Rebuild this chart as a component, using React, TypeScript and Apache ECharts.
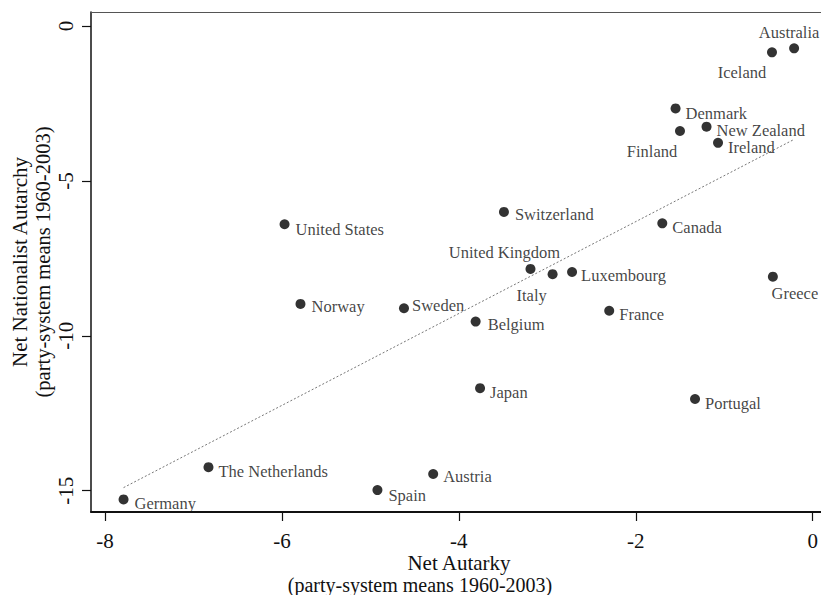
import React, { useEffect, useRef } from "react";
import * as echarts from "echarts";

const countries = [
  "Australia", "Iceland", "Denmark", "Finland", "New Zealand", "Ireland",
  "Switzerland", "Canada", "United States", "United Kingdom", "Italy",
  "Luxembourg", "Greece", "Norway", "Sweden", "France", "Belgium", "Japan",
  "Portugal", "The Netherlands", "Austria", "Spain", "Germany",
];
const netAutarky = [
  -0.21, -0.46, -1.55, -1.50, -1.20, -1.07,
  -3.49, -1.70, -5.97, -3.19, -2.94,
  -2.72, -0.45, -5.79, -4.62, -2.30, -3.81, -3.76,
  -1.33, -6.83, -4.29, -4.92, -7.79,
];
const netNationalistAutarchy = [
  -0.72, -0.85, -2.66, -3.39, -3.25, -3.77,
  -6.00, -6.37, -6.40, -7.84, -8.01,
  -7.94, -8.09, -8.97, -9.11, -9.19, -9.54, -11.69,
  -12.04, -14.24, -14.46, -14.98, -15.28,
];
const fitLine = [
  [-7.79, -14.9],
  [-0.21, -3.66],
];
const xTicks = [-8, -6, -4, -2, 0];
const yTicks = [0, -5, -10, -15];
const xTitle = ["Net Autarky", "(party-system means 1960-2003)"];
const yTitle = ["Net Nationalist Autarchy", "(party-system means 1960-2003)"];

// label placement: [align, dx, dy] relative to point centre
const labelPlacement: Record<string, [string, number, number]> = {
  Australia: ["center", -5, -16],
  Iceland: ["center", -30, 20],
  Denmark: ["left", 10, 5],
  Finland: ["center", -28, 20],
  "New Zealand": ["left", 10, 4],
  Ireland: ["left", 10, 5],
  Switzerland: ["left", 11, 3],
  Canada: ["left", 10, 4],
  "United States": ["left", 11, 5],
  "United Kingdom": ["center", -26, -16],
  Italy: ["center", -21, 21],
  Luxembourg: ["left", 9, 4],
  Greece: ["center", 22, 17],
  Norway: ["left", 11, 3],
  Sweden: ["left", 8, -3],
  France: ["left", 10, 4],
  Belgium: ["left", 12, 3],
  Japan: ["left", 10, 4],
  Portugal: ["left", 10, 4],
  "The Netherlands": ["left", 10, 4],
  Austria: ["left", 10, 3],
  Spain: ["left", 11, 5],
  Germany: ["left", 11, 4],
};

const FONT = '"Liberation Serif", "Times New Roman", serif';

export default function App() {
  const ref = useRef<HTMLDivElement>(null);
  useEffect(() => {
    if (!ref.current) return;
    const chart = echarts.init(ref.current, null, { renderer: "svg" });
    const data = countries.map((name, i) => {
      const p = labelPlacement[name] || ["left", 10, 0];
      return {
        name,
        value: [netAutarky[i], netNationalistAutarchy[i]],
        label: {
          show: true,
          formatter: name,
          position: "inside",
          align: p[0],
          verticalAlign: "middle",
          offset: [p[1], p[2]],
          color: "#111",
          fontFamily: FONT,
          fontSize: 16.5,
        },
      };
    });
    const axisColor = "#111";
    chart.setOption({
      animation: false,
      backgroundColor: "#fff",
      grid: { left: 91, top: 12, right: 0, bottom: 83, containLabel: false },
      xAxis: [
        {
          type: "value",
          min: -8.158,
          max: 0.094,
          splitLine: { show: false },
          axisLine: { show: true, onZero: false, lineStyle: { color: axisColor, width: 2 } },
          axisTick: { show: true, length: 9, customValues: xTicks, lineStyle: { color: axisColor, width: 1.2 } },
          axisLabel: {
            customValues: xTicks,
            margin: 18,
            color: "#111",
            fontFamily: FONT,
            fontSize: 21,
          },
        },
        {
          type: "value",
          position: "top",
          min: -8.158,
          max: 0.094,
          splitLine: { show: false },
          axisLine: { show: true, onZero: false, lineStyle: { color: "#555", width: 1 } },
          axisTick: { show: false },
          axisLabel: { show: false },
        },
      ],
      yAxis: {
        type: "value",
        min: -15.687,
        max: 0.452,
        splitLine: { show: false },
        axisLine: { show: true, onZero: false, lineStyle: { color: axisColor, width: 1.5 } },
        axisTick: { show: true, length: 9, customValues: yTicks, lineStyle: { color: axisColor, width: 1.2 } },
        axisLabel: {
          customValues: yTicks,
          rotate: 90,
          margin: 15,
          color: "#111",
          fontFamily: FONT,
          fontSize: 21,
        },
      },
      series: [
        {
          type: "line",
          data: fitLine,
          showSymbol: false,
          silent: true,
          lineStyle: { color: "#777", width: 1, type: [2, 2] },
          z: 1,
        },
        {
          type: "scatter",
          data,
          symbol: "circle",
          symbolSize: 10,
          itemStyle: { color: "#000" },
          z: 3,
        },
      ],
      graphic: [
        {
          type: "text",
          x: 459,
          y: 563,
          style: { text: xTitle[0], font: `21px ${FONT}`, fill: "#111", align: "center", verticalAlign: "middle" },
        },
        {
          type: "text",
          x: 420,
          y: 584.5,
          style: { text: xTitle[1], font: `20px ${FONT}`, fill: "#111", align: "center", verticalAlign: "middle" },
        },
        {
          type: "text",
          x: 20,
          y: 262,
          rotation: Math.PI / 2,
          style: { text: yTitle[0], font: `21px ${FONT}`, fill: "#111", align: "center", verticalAlign: "middle" },
        },
        {
          type: "text",
          x: 43,
          y: 262,
          rotation: Math.PI / 2,
          style: { text: yTitle[1], font: `20.5px ${FONT}`, fill: "#111", align: "center", verticalAlign: "middle" },
        },
      ],
    });
    return () => chart.dispose();
  }, []);
  return <div ref={ref} style={{ width: 821, height: 595, position: "absolute", left: 0, top: 0 }} />;
}
